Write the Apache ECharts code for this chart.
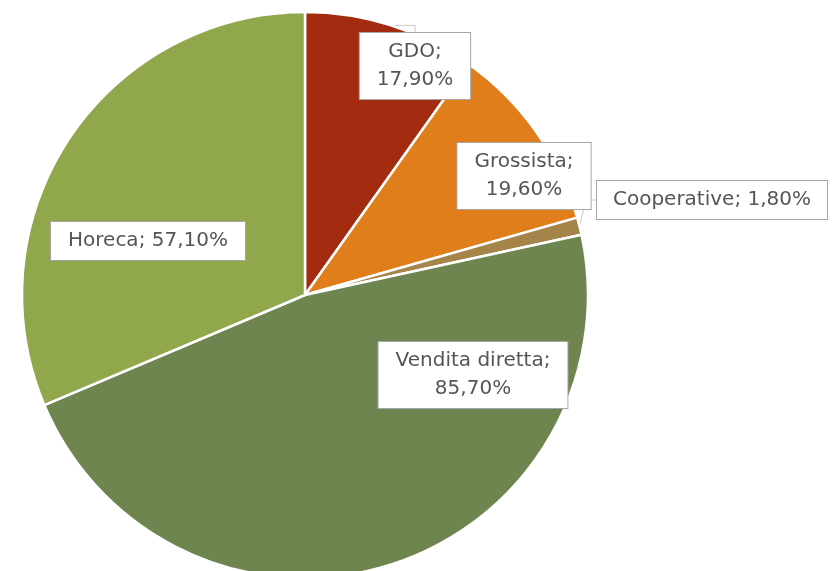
<!DOCTYPE html>
<html><head><meta charset="utf-8">
<script src="https://cdn.jsdelivr.net/npm/echarts@6/dist/echarts.min.js"></script>
<style>html,body{margin:0;padding:0;background:#fff}#c{width:836px;height:571px}</style>
</head><body><div id="c"></div>
<script>
const categories = ['GDO', 'Grossista', 'Cooperative', 'Vendita diretta', 'Horeca'];
const values = [17.9, 19.6, 1.8, 85.7, 57.1];
const colors = ['#a32b0f', '#df7e1b', '#a5844a', '#6e8550', '#91a74c'];
const twoLine = [true, true, false, true, false];
const labelPos = [[415, 66], [524, 176], [712, 200], [473, 375], [148, 241]];
const labelInside = [false, false, false, false, true];

const chart = echarts.init(document.getElementById('c'));
const fmt = v => v.toFixed(2).replace('.', ',') + '%';
chart.setOption({
  animation: false,
  series: [{
    type: 'pie',
    center: [305, 295],
    radius: 283,
    startAngle: 90,
    clockwise: true,
    data: categories.map((n, i) => ({
      name: n, value: values[i], itemStyle: { color: colors[i] },
      label: { position: labelInside[i] ? 'inside' : 'outside' }
    })),
    itemStyle: { borderColor: '#fff', borderWidth: 2.5 },
    label: {
      show: true,
      overflow: 'none',
      formatter: p => p.name + ';' + (twoLine[p.dataIndex] ? '\n' : ' ') + fmt(p.value),
      fontFamily: 'DejaVu Sans',
      fontSize: 20,
      lineHeight: 28,
      color: '#555555',
      align: 'center',
      backgroundColor: '#fff',
      borderColor: '#a6a6a6',
      borderWidth: 1,
      padding: [5, 17, 5, 17]
    },
    labelLine: { show: true, lineStyle: { color: '#c8c8c8', width: 1 }, length: 10, length2: 10 },
    labelLayout: p => ({ x: labelPos[p.dataIndex][0], y: labelPos[p.dataIndex][1], align: 'center', verticalAlign: 'middle' })
  }]
});
</script></body></html>
